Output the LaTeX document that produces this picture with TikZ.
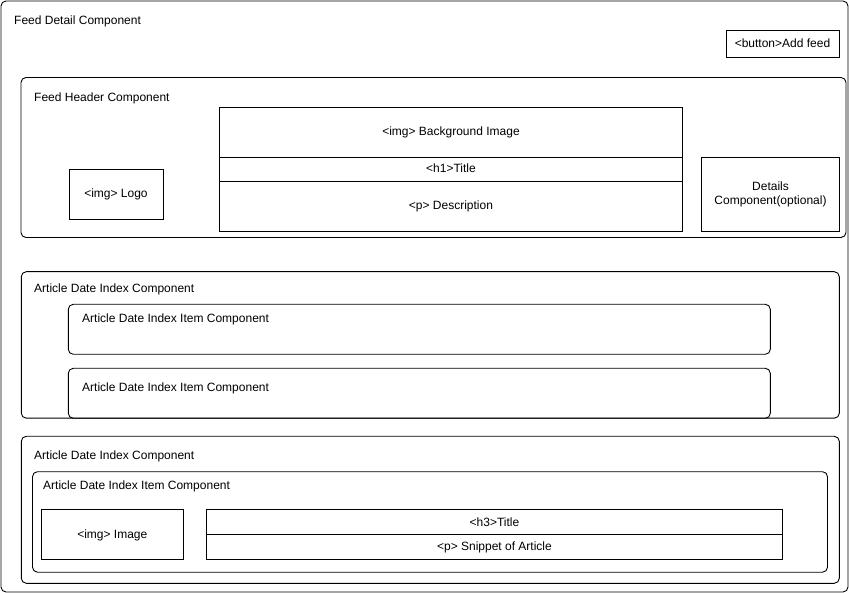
\documentclass[tikz,border=0pt]{standalone}
\usepackage{fontspec}
\setmainfont{Liberation Sans}
\begin{document}
\begin{tikzpicture}[x=1pt,y=-1pt,
  shape base/.style={draw, line width=0.9pt, anchor=north west, inner sep=0pt, outer sep=0pt, align=center, font=\fontsize{12}{14}\selectfont},
  box/.style={shape base, text height=9.5pt, text depth=1.5pt},
  rbox/.style={box, rounded corners=5pt},
  lbl/.style={anchor=west, inner sep=0pt, font=\fontsize{12}{14}\selectfont}]
\useasboundingbox (0,0) rectangle (849,593);
% outer
\node[rbox, minimum width=847pt, minimum height=591pt] (outer) at (1,1) {};
\node[lbl] (outerlbl) at (14,21) {Feed Detail Component};
\node[box, minimum width=113pt, minimum height=27pt] (btn) at (726,30.5) {<button>Add feed};
% header
\node[rbox, minimum width=825pt, minimum height=160pt] (hdr) at (21,77.5) {};
\node[lbl] (hdrlbl) at (34,98) {Feed Header Component};
\node[box, minimum width=463pt, minimum height=50pt] (bg) at (219.5,107) {<img> Background Image};
\node[box, minimum width=463pt, minimum height=24pt] (h1) at (219.5,157) {<h1>Title};
\node[box, minimum width=463pt, minimum height=50pt] (desc) at (219.5,181) {<p> Description};
\node[box, minimum width=94pt, minimum height=50pt] (logo) at (69,169) {<img> Logo};
\node[shape base, minimum width=138pt, minimum height=74pt, yshift=-1pt] (det) at (701.5,156) {Details\\Component(optional)};
% article date index 1
\node[rbox, minimum width=818pt, minimum height=146.5pt] (adi1) at (21.3,271.7) {};
\node[lbl] (adi1lbl) at (34,289) {Article Date Index Component};
\node[rbox, minimum width=702pt, minimum height=50pt] (item1) at (68.3,304.3) {};
\node[lbl] (item1lbl) at (82,319) {Article Date Index Item Component};
\node[rbox, minimum width=702pt, minimum height=50pt] (item2) at (68.3,368.3) {};
\node[lbl] (item2lbl) at (82,388) {Article Date Index Item Component};
% article date index 2
\node[rbox, minimum width=818pt, minimum height=147pt] (adi2) at (21.3,436.3) {};
\node[lbl] (adi2lbl) at (34,456) {Article Date Index Component};
\node[rbox, minimum width=795pt, minimum height=100.5pt] (item3) at (32.5,471.7) {};
\node[lbl] (item3lbl) at (43,486) {Article Date Index Item Component};
\node[box, minimum width=142pt, minimum height=49.5pt] (img) at (41.3,509.5) {<img> Image};
\node[box, minimum width=575.5pt, minimum height=25pt] (h3) at (206.7,509.5) {<h3>Title};
\node[box, minimum width=575.5pt, minimum height=24.5pt] (snip) at (206.7,534.5) {<p> Snippet of Article};
\end{tikzpicture}
\end{document}
